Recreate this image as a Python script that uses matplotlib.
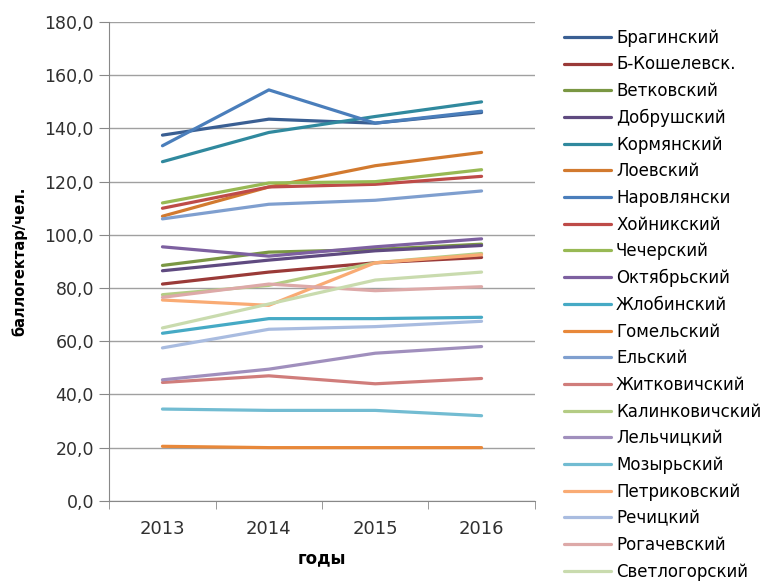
import matplotlib
matplotlib.use("Agg")
import matplotlib.pyplot as plt
from matplotlib.ticker import FuncFormatter

years = ["2013", "2014", "2015", "2016"]

districts = [
    "Брагинский", "Б-Кошелевск.", "Ветковский", "Добрушский", "Кормянский",
    "Лоевский", "Наровлянски", "Хойникский", "Чечерский", "Октябрьский",
    "Жлобинский", "Гомельский", "Ельский", "Житковичский", "Калинковичский",
    "Лельчицкий", "Мозырьский", "Петриковский", "Речицкий", "Рогачевский",
    "Светлогорский",
]

values = [
    [137.5, 143.5, 142.0, 146.0],
    [81.5, 86.0, 89.5, 91.5],
    [88.5, 93.5, 94.5, 96.5],
    [86.5, 90.5, 94.0, 96.0],
    [127.5, 138.5, 144.5, 150.0],
    [107.0, 118.0, 126.0, 131.0],
    [133.5, 154.5, 142.0, 146.5],
    [110.0, 118.0, 119.0, 122.0],
    [112.0, 119.5, 120.0, 124.5],
    [95.5, 92.0, 95.5, 98.5],
    [63.0, 68.5, 68.5, 69.0],
    [20.5, 20.0, 20.0, 20.0],
    [106.0, 111.5, 113.0, 116.5],
    [44.5, 47.0, 44.0, 46.0],
    [77.5, 81.0, 89.5, 93.0],
    [45.5, 49.5, 55.5, 58.0],
    [34.5, 34.0, 34.0, 32.0],
    [75.5, 73.5, 89.5, 92.5],
    [57.5, 64.5, 65.5, 67.5],
    [76.5, 81.5, 79.0, 80.5],
    [65.0, 74.0, 83.0, 86.0],
]

colors = [
    "#3A5F93", "#9A3A38", "#7A9743", "#5F4A80", "#30899E", "#D27A2F",
    "#4A7EBB", "#BE4B48", "#98B954", "#7D60A0", "#46AAC5", "#E8883A",
    "#7F9FCF", "#D07D7B", "#B4CC84", "#A08FBD", "#72BCD2", "#F9AB74",
    "#A9BCE0", "#DDA9A8", "#C9DBAE",
]

plt.rcParams["font.family"] = ["DejaVu Sans"]

fig = plt.figure(figsize=(7.75, 5.81), dpi=100)
ax = fig.add_axes([0.141, 0.138, 0.549, 0.824])

x = list(range(len(years)))
for name, vals, col in zip(districts, values, colors):
    ax.plot(x, vals, color=col, linewidth=2.3, label=name, solid_capstyle="round")

ax.set_xlim(-0.5, 3.5)
ax.set_ylim(0, 180)
ax.set_yticks(range(0, 181, 20))
ax.yaxis.set_major_formatter(FuncFormatter(lambda v, p: f"{v:.1f}".replace(".", ",")))
ax.set_xticks(x)
ax.set_xticklabels(years)
ax.set_xticks([-0.5, 0.5, 1.5, 2.5, 3.5], minor=True)
ax.tick_params(axis="x", which="major", length=0, pad=14, labelsize=13,
               labelcolor="#303030")
ax.tick_params(axis="x", which="minor", length=6, color="#888888")
ax.tick_params(axis="y", length=7, color="#888888", labelsize=12.5,
               labelcolor="#303030", pad=4)

ax.grid(axis="y", color="#A0A0A0", linewidth=1)
ax.set_axisbelow(True)
for side in ["top", "right"]:
    ax.spines[side].set_visible(False)
ax.spines["left"].set_color("#888888")
ax.spines["bottom"].set_color("#888888")

ax.set_xlabel("годы", fontsize=12, fontweight="bold", labelpad=8)
ax.set_ylabel("баллогектар/чел.", fontsize=10.5, fontweight="bold", labelpad=12)

ax.legend(loc="upper left", bbox_to_anchor=(1.054, 1.0), frameon=False,
          fontsize=12, handlelength=2.8, handletextpad=0.3, labelspacing=0.52,
          borderaxespad=0)

fig.savefig("out.png", dpi=100)
